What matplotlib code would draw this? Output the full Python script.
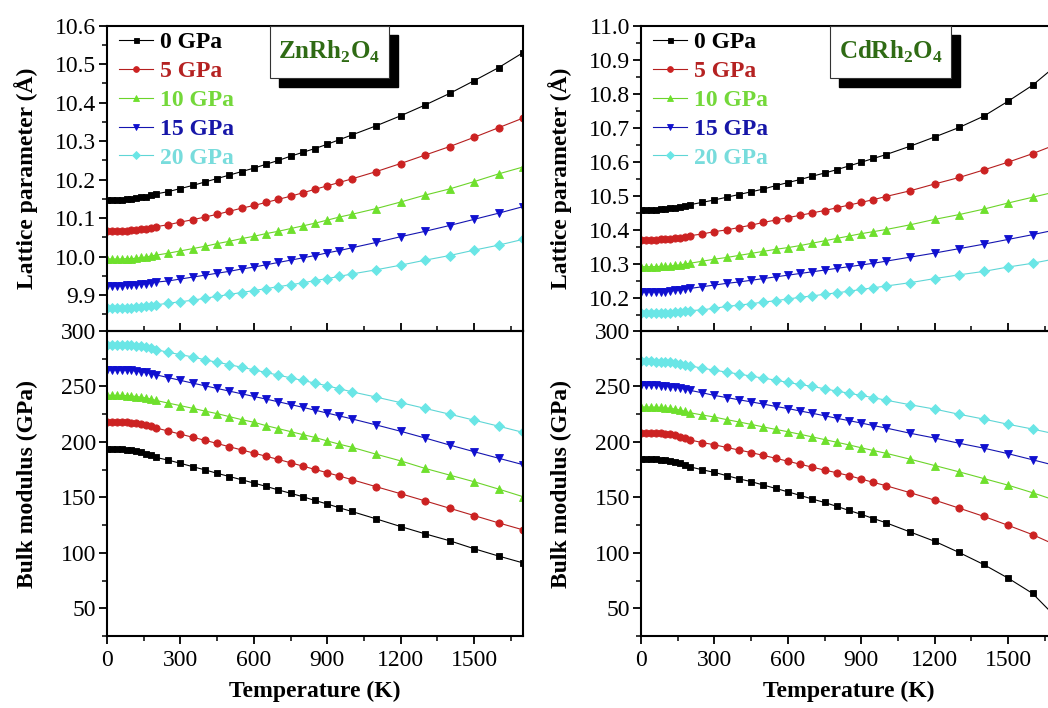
import matplotlib
matplotlib.use("Agg")
import matplotlib.pyplot as plt
from matplotlib.patches import Rectangle
from matplotlib.ticker import MultipleLocator, FixedLocator

plt.rcParams['font.family'] = ['Liberation Serif', 'DejaVu Serif']
plt.rcParams['mathtext.fontset'] = 'custom'
plt.rcParams['mathtext.rm'] = 'Liberation Serif'
plt.rcParams['mathtext.bf'] = 'Liberation Serif:bold'

# ---------------- data ----------------
temperature = [0, 20, 40, 60, 80, 100, 120, 140, 160, 180, 200,
               250, 300, 350, 400, 450, 500, 550, 600, 650, 700, 750, 800, 850, 900, 950, 1000,
               1100, 1200, 1300, 1400, 1500, 1600, 1700]
pressures = ["0 GPa", "5 GPa", "10 GPa", "15 GPa", "20 GPa"]

# ZnRh2O4 lattice parameter (Angstrom)
zn_a_0 = [10.148, 10.148, 10.148, 10.148, 10.149, 10.150, 10.152, 10.154, 10.156, 10.159, 10.163,
          10.169, 10.177, 10.185, 10.194, 10.203, 10.212, 10.221, 10.230, 10.240, 10.250, 10.261, 10.271, 10.281, 10.292, 10.304, 10.316,
          10.340, 10.366, 10.394, 10.424, 10.457, 10.491, 10.530]
zn_a_5 = [10.067, 10.067, 10.067, 10.067, 10.068, 10.069, 10.070, 10.071, 10.073, 10.075, 10.078,
          10.083, 10.090, 10.096, 10.103, 10.110, 10.118, 10.126, 10.133, 10.141, 10.149, 10.157, 10.166, 10.175, 10.184, 10.193, 10.202,
          10.221, 10.242, 10.264, 10.286, 10.310, 10.335, 10.360]
zn_a_10 = [9.994, 9.994, 9.994, 9.994, 9.995, 9.995, 9.996, 9.998, 9.999, 10.002, 10.004,
           10.009, 10.015, 10.021, 10.027, 10.034, 10.040, 10.047, 10.053, 10.060, 10.066, 10.073, 10.080, 10.087, 10.095, 10.103, 10.110,
           10.125, 10.142, 10.160, 10.176, 10.195, 10.215, 10.233]
zn_a_15 = [9.925, 9.925, 9.925, 9.925, 9.926, 9.926, 9.927, 9.928, 9.930, 9.932, 9.934,
           9.937, 9.942, 9.947, 9.952, 9.957, 9.962, 9.968, 9.973, 9.979, 9.985, 9.991, 9.997, 10.003, 10.010, 10.016, 10.023,
           10.037, 10.052, 10.066, 10.081, 10.097, 10.113, 10.130]
zn_a_20 = [9.867, 9.867, 9.867, 9.867, 9.868, 9.868, 9.869, 9.870, 9.871, 9.873, 9.875,
           9.879, 9.883, 9.887, 9.892, 9.897, 9.902, 9.907, 9.912, 9.917, 9.922, 9.927, 9.932, 9.938, 9.943, 9.949, 9.955,
           9.966, 9.978, 9.991, 10.003, 10.017, 10.030, 10.045]

# ZnRh2O4 bulk modulus (GPa)
zn_b_0 = [193.5, 193.5, 193.4, 193.3, 193.0, 192.5, 191.7, 190.7, 189.5, 187.9, 186.0,
          183.6, 180.7, 177.7, 174.8, 171.7, 168.8, 165.9, 162.9, 159.9, 156.7, 153.7, 150.6, 147.2, 144.0, 140.6, 137.3,
          130.6, 123.7, 117.1, 110.9, 103.7, 97.1, 90.9]
zn_b_5 = [218.2, 218.2, 218.1, 218.0, 217.8, 217.4, 216.9, 216.1, 215.2, 214.0, 212.6,
          209.8, 207.0, 204.2, 201.5, 198.6, 195.6, 192.8, 189.9, 187.1, 184.2, 181.2, 178.2, 175.2, 172.2, 169.2, 166.0,
          159.6, 153.3, 146.8, 140.2, 133.6, 127.0, 120.7]
zn_b_10 = [242.0, 242.0, 242.0, 241.9, 241.7, 241.4, 240.9, 240.3, 239.6, 238.6, 237.4,
           235.0, 232.7, 230.3, 227.8, 225.5, 222.8, 220.1, 217.7, 214.7, 212.0, 209.3, 206.6, 204.0, 200.9, 197.9, 195.2,
           188.9, 182.9, 176.1, 170.1, 164.1, 157.5, 150.6]
zn_b_15 = [265.0, 265.0, 265.0, 264.9, 264.7, 264.4, 263.9, 263.3, 262.6, 261.6, 260.5,
           258.0, 255.5, 253.0, 250.6, 248.2, 245.8, 243.4, 241.0, 238.6, 236.2, 233.7, 231.2, 228.6, 226.0, 223.4, 220.8,
           215.3, 209.6, 203.5, 197.2, 191.2, 185.3, 179.5]
zn_b_20 = [287.8, 287.8, 287.8, 287.7, 287.5, 287.2, 286.7, 286.1, 285.4, 284.4, 283.2,
           280.8, 278.7, 276.6, 274.0, 271.8, 269.7, 267.3, 265.0, 262.6, 260.2, 257.8, 255.4, 253.0, 250.6, 247.9, 245.2,
           240.4, 235.4, 230.2, 225.0, 219.6, 214.2, 208.6]

# CdRh2O4 lattice parameter (Angstrom)
cd_a_0 = [10.459, 10.459, 10.459, 10.459, 10.460, 10.461, 10.463, 10.465, 10.467, 10.470, 10.474,
          10.481, 10.488, 10.496, 10.504, 10.512, 10.520, 10.530, 10.539, 10.548, 10.558, 10.567, 10.577, 10.588, 10.599, 10.610, 10.621,
          10.646, 10.673, 10.701, 10.734, 10.778, 10.825, 10.885]
cd_a_5 = [10.371, 10.371, 10.371, 10.371, 10.372, 10.373, 10.374, 10.375, 10.377, 10.380, 10.383,
          10.388, 10.395, 10.400, 10.407, 10.414, 10.422, 10.429, 10.436, 10.443, 10.450, 10.457, 10.465, 10.473, 10.481, 10.489, 10.498,
          10.515, 10.535, 10.554, 10.576, 10.599, 10.624, 10.652]
cd_a_10 = [10.292, 10.292, 10.292, 10.292, 10.293, 10.293, 10.294, 10.296, 10.297, 10.300, 10.302,
           10.308, 10.314, 10.319, 10.325, 10.331, 10.337, 10.343, 10.348, 10.354, 10.361, 10.368, 10.375, 10.382, 10.389, 10.395, 10.401,
           10.415, 10.431, 10.445, 10.461, 10.479, 10.496, 10.513]
cd_a_15 = [10.218, 10.218, 10.218, 10.218, 10.219, 10.219, 10.220, 10.222, 10.223, 10.226, 10.228,
           10.233, 10.238, 10.243, 10.247, 10.252, 10.257, 10.262, 10.267, 10.272, 10.277, 10.282, 10.287, 10.292, 10.297, 10.302, 10.308,
           10.320, 10.332, 10.345, 10.358, 10.372, 10.386, 10.401]
cd_a_20 = [10.155, 10.155, 10.155, 10.155, 10.156, 10.156, 10.157, 10.158, 10.159, 10.161, 10.163,
           10.165, 10.170, 10.175, 10.179, 10.183, 10.188, 10.192, 10.197, 10.202, 10.206, 10.211, 10.215, 10.220, 10.225, 10.230, 10.235,
           10.245, 10.257, 10.268, 10.278, 10.291, 10.302, 10.316]

# CdRh2O4 bulk modulus (GPa)
cd_b_0 = [184.5, 184.5, 184.4, 184.3, 184.0, 183.5, 182.8, 181.9, 180.8, 179.3, 177.5,
          174.9, 172.5, 169.6, 166.7, 164.2, 161.1, 158.1, 155.0, 151.8, 148.5, 145.4, 141.9, 138.2, 134.7, 130.9, 127.2,
          118.8, 110.4, 100.3, 89.5, 77.2, 63.4, 41.0]
cd_b_5 = [208.2, 208.2, 208.1, 208.0, 207.8, 207.3, 206.7, 205.8, 204.8, 203.4, 201.8,
          199.4, 197.4, 195.0, 192.7, 190.4, 187.8, 185.3, 182.6, 179.9, 177.2, 174.6, 172.2, 169.6, 166.5, 163.5, 160.6,
          154.2, 147.5, 140.3, 132.9, 124.8, 116.4, 106.5]
cd_b_10 = [231.5, 231.5, 231.4, 231.3, 231.1, 230.8, 230.2, 229.6, 228.7, 227.6, 226.3,
           224.3, 222.4, 220.1, 218.0, 215.8, 213.5, 211.3, 209.2, 206.9, 204.5, 202.1, 199.7, 197.3, 194.7, 192.2, 189.8,
           184.4, 178.7, 173.0, 167.0, 161.0, 154.2, 146.8]
cd_b_15 = [251.0, 251.0, 251.0, 250.9, 250.7, 250.4, 249.9, 249.3, 248.6, 247.6, 246.5,
           244.3, 241.9, 240.0, 238.0, 236.1, 234.1, 232.0, 230.1, 227.9, 225.8, 223.6, 221.3, 219.2, 217.0, 214.7, 212.6,
           207.8, 203.5, 198.8, 194.4, 189.4, 183.9, 178.3]
cd_b_20 = [272.6, 272.6, 272.6, 272.5, 272.3, 272.0, 271.6, 271.1, 270.5, 269.6, 268.6,
           266.5, 264.7, 262.9, 261.2, 259.3, 257.5, 255.7, 253.6, 251.8, 250.0, 247.9, 245.8, 243.9, 241.9, 239.8, 237.7,
           233.5, 229.6, 224.9, 220.6, 215.9, 211.6, 206.8]

zn_lattice = [zn_a_0, zn_a_5, zn_a_10, zn_a_15, zn_a_20]
zn_bulk = [zn_b_0, zn_b_5, zn_b_10, zn_b_15, zn_b_20]
cd_lattice = [cd_a_0, cd_a_5, cd_a_10, cd_a_15, cd_a_20]
cd_bulk = [cd_b_0, cd_b_5, cd_b_10, cd_b_15, cd_b_20]

# ---------------- style ----------------
line_colors = ['#000000', '#b51f1f', '#6cd42a', '#1515b0', '#5fd6d6']
marker_colors = ['#000000', '#cc2222', '#6ee02c', '#1010d0', '#6ae6e6']
text_colors = ['#000000', '#b52222', '#74d83a', '#1616a8', '#78dcdc']
markers = ['s', 'o', '^', 'v', 'D']
msizes = [4.5, 5.2, 5.8, 5.8, 5.0]

W, H = 1048, 708
fig = plt.figure(figsize=(W / 100, H / 100), dpi=100)


def fx(px):
    return px / W


def fy(py):
    return 1 - py / H


ax_w = 416
top_y0, mid_y, bot_y1 = 25.7, 331.0, 636.0
panels = [
    dict(x0=107, lat=zn_lattice, bulk=zn_bulk, name=r"ZnRh$_\mathbf{2}$O$_\mathbf{4}$",
         lat_ylim=(9.807, 10.6), lat_ticks=[9.9, 10.0, 10.1, 10.2, 10.3, 10.4, 10.5, 10.6],
         box=(270, 389)),
    dict(x0=641, lat=cd_lattice, bulk=cd_bulk, name=r"CdRh$_\mathbf{2}$O$_\mathbf{4}$",
         lat_ylim=(10.103, 11.0), lat_ticks=[10.2, 10.3, 10.4, 10.5, 10.6, 10.7, 10.8, 10.9, 11.0],
         box=(830, 951)),
]

tick_fs = 17
label_fs = 17

for p in panels:
    x0 = p['x0']
    ax_b = fig.add_axes([fx(x0), fy(bot_y1), fx(ax_w), (bot_y1 - mid_y) / H])
    ax_t = fig.add_axes([fx(x0), fy(mid_y), fx(ax_w), (mid_y - top_y0) / H])
    ax_t.patch.set_alpha(0)

    for i in range(5):
        kw = dict(color=line_colors[i], lw=0.8, marker=markers[i], ms=msizes[i],
                  mfc=marker_colors[i], mec=marker_colors[i], mew=0.6, clip_on=True)
        ax_t.plot(temperature, p['lat'][i], label=pressures[i], **kw)
        ax_b.plot(temperature, p['bulk'][i], **kw)

    for ax in (ax_t, ax_b):
        ax.set_xlim(0, 1700)
        for s in ax.spines.values():
            s.set_linewidth(1.5)
        ax.tick_params(axis='y', which='major', direction='out', length=6, width=1.3,
                       labelsize=tick_fs, left=True, right=False, pad=2)
        ax.tick_params(axis='y', which='minor', direction='out', length=3.5, width=1.1,
                       left=True, right=False)

    ax_t.set_ylim(*p['lat_ylim'])
    ax_t.yaxis.set_major_locator(FixedLocator(p['lat_ticks']))
    ax_t.yaxis.set_minor_locator(MultipleLocator(0.05))
    ax_t.yaxis.set_major_formatter(matplotlib.ticker.FormatStrFormatter('%.1f'))
    ax_t.tick_params(axis='x', which='both', bottom=False, top=False, labelbottom=False)

    ax_b.set_ylim(25, 300)
    ax_b.yaxis.set_major_locator(MultipleLocator(50))
    ax_b.yaxis.set_minor_locator(MultipleLocator(25))
    ax_b.xaxis.set_major_locator(MultipleLocator(300))
    ax_b.xaxis.set_minor_locator(MultipleLocator(150))
    ax_b.tick_params(axis='x', which='major', direction='out', length=6, width=1.3,
                     top=True, bottom=True, labelsize=tick_fs, pad=4)
    ax_b.tick_params(axis='x', which='minor', direction='out', length=3.5, width=1.1,
                     top=True, bottom=True)

    ax_t.set_ylabel("Lattice parameter (Å)", fontsize=label_fs, fontweight='bold')
    ax_b.set_ylabel("Bulk modulus (GPa)", fontsize=label_fs, fontweight='bold')
    ax_t.yaxis.set_label_coords(-0.166, 0.5)
    ax_b.yaxis.set_label_coords(-0.166, 0.5)
    ax_b.set_xlabel("Temperature (K)", fontsize=label_fs, fontweight='bold', labelpad=7)

    leg = ax_t.legend(loc='upper left', bbox_to_anchor=(0.03, 0.98), frameon=False,
                      handlelength=1.4, handletextpad=0.3, labelspacing=0.31,
                      borderpad=0.0, borderaxespad=0.0, markerscale=0.8,
                      prop=dict(weight='bold', size=17))
    for t, c in zip(leg.get_texts(), text_colors):
        t.set_color(c)

    # title box with shadow
    bx0, bx1 = p['box']
    by0, by1 = 26.0, 78.0
    off = 9
    tr = ax_t.transAxes

    def ax_xy(px, py):
        return ((px - x0) / ax_w, (mid_y - py) / (mid_y - top_y0))

    sx, sy = ax_xy(bx0 + off, by1 + off)
    ax_t.add_patch(Rectangle((sx, sy), (bx1 - bx0) / ax_w, (by1 - by0) / (mid_y - top_y0),
                             transform=tr, facecolor='black', edgecolor='black', zorder=5,
                             clip_on=False))
    rx, ry = ax_xy(bx0, by1)
    ax_t.add_patch(Rectangle((rx, ry), (bx1 - bx0) / ax_w, (by1 - by0) / (mid_y - top_y0),
                             transform=tr, facecolor='white', edgecolor='#333333', lw=0.8,
                             zorder=6, clip_on=False))
    cx, cy = ax_xy((bx0 + bx1) / 2, (by0 + by1) / 2)
    ax_t.text(cx, cy, p['name'], transform=tr, ha='center', va='center', fontsize=18,
              fontweight='bold', color='#2f6b14', zorder=7)

fig.savefig("out.png", dpi=100)
